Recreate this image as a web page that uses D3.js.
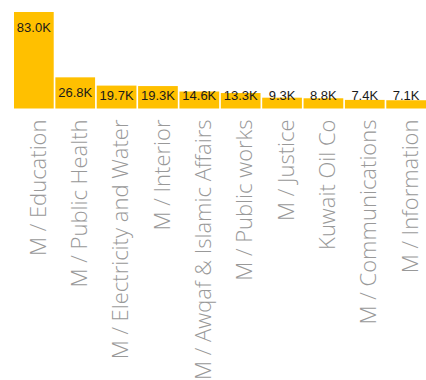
<!DOCTYPE html>
<html>
<head>
<meta charset="utf-8">
<title></title>
<script src="https://cdn.jsdelivr.net/npm/d3@7"></script>
<style>
body { margin: 0; background: #fff; }
</style>
</head>
<body>
<script>
const width = 426
const height = 380
const margin = { top: 12, left: 14, right: 0 }
const baseY = 108.5

const categories = ['M / Education', 'M / Public Health', 'M / Electricity and Water', 'M / Interior',
  'M / Awqaf & Islamic Affairs', 'M / Public works', 'M / Justice', 'Kuwait Oil Co',
  'M / Communications', 'M / Information']
const values = [83.0, 26.8, 19.7, 19.3, 14.6, 13.3, 9.3, 8.8, 7.4, 7.1]
const valueLabels = ['83.0K', '26.8K', '19.7K', '19.3K', '14.6K', '13.3K', '9.3K', '8.8K', '7.4K', '7.1K']

const svg = d3.select('body').append('svg')
  .attr('width', width)
  .attr('height', height)

const x = d3.scaleBand()
  .domain(categories)
  .range([margin.left, width - margin.right])
  .paddingInner(0.04)

const y = d3.scaleLinear()
  .domain([0, d3.max(values)])
  .range([baseY, margin.top])

// bars
svg.selectAll('rect.bar')
  .data(categories)
  .enter().append('rect')
  .attr('class', 'bar')
  .attr('x', d => x(d))
  .attr('width', x.bandwidth())
  .attr('y', (d, i) => y(values[i]))
  .attr('height', (d, i) => baseY - y(values[i]))
  .attr('fill', '#ffc000')

// value labels
svg.selectAll('text.val')
  .data(categories)
  .enter().append('text')
  .attr('class', 'val')
  .attr('x', d => x(d) + x.bandwidth() / 2)
  .attr('y', (d, i) => Math.min(y(values[i]) + 15, 95))
  .attr('dy', '0.35em')
  .attr('text-anchor', 'middle')
  .attr('font-family', 'Liberation Sans, Arial, sans-serif')
  .attr('font-size', 13)
  .attr('fill', '#1a1a1a')
  .text((d, i) => valueLabels[i])

// category axis, rotated labels
const axis = svg.append('g')
  .attr('transform', `translate(0,${baseY})`)
  .call(d3.axisBottom(x).tickSize(0).tickPadding(0))
axis.select('.domain').remove()
axis.selectAll('text')
  .attr('font-family', 'Open Sans, sans-serif')
  .attr('font-weight', 300)
  .attr('font-size', 22)
  .attr('fill', '#999')
  .attr('text-anchor', 'end')
  .attr('transform', 'rotate(-90)')
  .attr('x', -11)
  .attr('y', 4)
  .attr('dy', '0.35em')
</script>
</body>
</html>
